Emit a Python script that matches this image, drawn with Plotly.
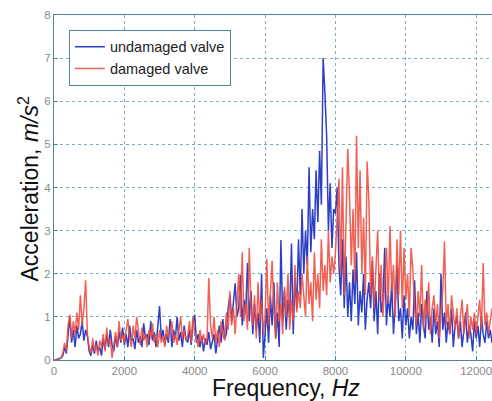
import plotly.graph_objects as go

FREQ_STEP = 50  # Hz between spectrum bins

undamaged = [
    0, 0, 0.02, 0.03, 0.05, 0.1, 0.3, 0.15, 0.6, 1.0, 0.4, 0.7, 0.3, 0.8, 0.5, 0.6, 0.9, 0.45, 0.7, 0.55,
    0.2, 0.1, 0.35, 0.15, 0.45, 0.2, 0.3, 0.1, 0.5, 0.25, 0.6, 0.3, 0.7, 0.35, 0.2, 0.55, 0.3, 0.65, 0.4, 0.75,
    0.35, 0.6, 0.3, 0.8, 0.45, 0.5, 0.25, 0.7, 0.4, 0.55, 0.3, 0.85, 0.5, 0.6, 0.35, 0.9, 0.45, 0.65, 0.3, 0.75,
    1.25, 0.5, 0.7, 0.35, 0.6, 0.4, 0.95, 0.3, 0.7, 0.5, 1.0, 0.45, 0.65, 0.3, 0.8, 0.5, 0.4, 0.7, 0.35, 0.85,
    1.05, 0.4, 0.6, 0.3, 0.55, 0.2, 0.5, 0.35, 0.65, 0.25, 0.45, 0.6, 0.15, 0.5, 0.8, 0.4, 0.95, 0.5, 0.6, 1.2,
    1.5, 0.9, 1.3, 1.78, 1.0, 1.2, 1.97, 0.8, 1.4, 1.1, 2.25, 0.9, 1.6, 0.6, 1.3, 0.7, 1.1, 0.4, 2.0, 0.05,
    0.6, 1.2, 0.4, 1.5, 0.8, 1.8, 0.5, 1.1, 0.3, 2.78, 0.9, 1.6, 0.7, 1.4, 1.0, 2.7, 0.6, 1.9, 1.2, 2.8,
    1.5, 3.5, 2.0, 3.0, 2.2, 4.47, 2.5, 3.5, 2.8, 4.4, 3.2, 4.85, 3.6, 7.0, 6.2, 5.2, 3.0, 4.1, 2.6, 3.5,
    3.4, 4.0, 2.2, 1.5, 2.8, 1.2, 2.4, 1.0, 1.8, 0.9, 2.1, 1.3, 2.5, 0.8, 1.6, 1.1, 2.0, 0.7, 1.4, 1.8,
    1.2, 2.3, 0.9, 1.6, 0.6, 2.0, 1.1, 1.4, 2.6, 0.8, 1.5, 1.0, 1.8, 0.6, 1.3, 2.2, 0.9, 1.2, 0.5, 1.5,
    0.8, 1.2, 0.5, 1.0, 0.7, 1.85, 0.6, 1.1, 0.4, 1.3, 0.8, 0.5, 1.6, 0.7, 1.0, 0.4, 1.2, 0.6, 0.9, 0.3,
    2.0, 0.7, 1.1, 0.4, 0.9, 0.6, 1.2, 0.3, 0.8, 1.0, 0.5, 0.9, 0.3, 0.7, 1.1, 0.4, 0.8, 0.6, 0.2, 0.9,
    0.5, 0.8, 0.3, 1.0, 0.6, 0.4, 0.9, 0.5, 0.7, 0.4, 0.6,
]

damaged = [
    0, 0, 0, 0.02, 0.05, 0.15, 0.4, 0.2, 0.8, 1.05, 0.5, 0.9, 0.6, 1.1, 0.7, 1.5, 0.8, 1.2, 1.85, 0.6,
    0.3, 0.15, 0.5, 0.2, 0.35, 0.1, 0.45, 0.3, 0.6, 0.2, 0.75, 0.35, 0.5, 0.05, 0.4, 0.65, 0.3, 0.9, 0.45, 0.6,
    0.4, 0.7, 0.95, 0.5, 0.3, 0.8, 0.5, 1.0, 0.6, 0.35, 0.75, 0.45, 0.6, 0.3, 0.7, 0.5, 0.85, 0.4, 0.6, 0.3,
    0.7, 0.4, 0.55, 0.3, 0.8, 0.5, 0.65, 0.9, 0.4, 0.6, 0.35, 0.75, 1.0, 0.5, 0.7, 0.45, 0.55, 0.9, 0.4, 1.0,
    0.6, 0.5, 0.3, 0.7, 0.4, 0.6, 0.35, 0.5, 1.9, 0.8, 0.5, 1.0, 0.4, 0.7, 0.3, 0.9, 0.6, 0.45, 1.1, 0.7,
    1.6, 0.8, 1.2, 0.6, 1.4, 2.0, 1.0, 2.5, 0.9, 1.3, 0.7, 2.6, 1.2, 0.8, 1.5, 0.5, 1.8, 0.9, 1.4, 0.6,
    1.0, 2.35, 0.8, 1.5, 2.3, 1.2, 0.5, 1.8, 0.9, 1.3, 0.6, 1.7, 1.0, 2.0, 0.7, 1.4, 0.9, 2.2, 1.1, 1.6,
    1.2, 2.0, 1.5, 1.0, 2.4, 1.3, 1.8, 0.9, 2.5, 1.4, 2.0, 1.2, 2.8, 1.6, 2.2, 1.5, 3.0, 1.8, 2.4, 2.0,
    2.5, 3.2, 4.2, 2.0, 4.47, 1.5, 3.0, 4.9, 3.8, 2.2, 3.5, 1.8, 5.2, 2.6, 4.4, 2.0, 3.3, 1.5, 4.6, 3.7,
    1.5, 2.4, 1.2, 2.0, 3.0, 1.4, 2.2, 1.0, 1.8, 2.6, 1.3, 3.1, 1.6, 2.2, 1.0, 2.8, 1.5, 3.0, 1.2, 2.6,
    1.4, 2.0, 1.0, 2.6, 2.1, 1.2, 0.8, 1.6, 1.0, 2.2, 0.7, 1.4, 1.0, 1.8, 0.6, 1.2, 1.5, 0.8, 1.3, 0.5,
    1.1, 1.6, 2.75, 0.8, 1.3, 0.6, 1.5, 1.0, 0.7, 1.2, 0.5, 1.0, 1.4, 0.6, 0.9, 1.3, 0.5, 1.0, 0.7, 1.1,
    0.6, 1.0, 1.4, 0.7, 2.25, 0.8, 1.1, 0.6, 0.9, 1.2, 0.7,
]

freq = [i * FREQ_STEP for i in range(len(undamaged))]

x_ticks = [0, 2000, 4000, 6000, 8000, 10000, 12000]
y_ticks = [0, 1, 2, 3, 4, 5, 6, 7, 8]

FONT = "Arial, Liberation Sans, sans-serif"
GRID = "#7aaec4"
FRAME = "#4f8596"

fig = go.Figure()
fig.add_trace(go.Scatter(x=freq, y=undamaged, mode="lines", name="undamaged valve",
                         line=dict(color="#2d3fc4", width=1.5)))
fig.add_trace(go.Scatter(x=freq, y=damaged, mode="lines", name="damaged valve",
                         line=dict(color="#f04c3e", width=1.5), opacity=0.88))

fig.update_layout(
    width=492, height=401,
    margin=dict(l=54, r=0, t=15, b=41),
    paper_bgcolor="white", plot_bgcolor="white",
    font=dict(family=FONT),
    showlegend=True,
    legend=dict(x=0.034, y=0.957, xanchor="left", yanchor="top",
                bgcolor="white", bordercolor=FRAME, borderwidth=1,
                font=dict(size=14.5, color="#222"), itemwidth=30,
                tracegroupgap=0),
    xaxis=dict(range=[0, 12450], tickvals=x_ticks, ticktext=[str(v) for v in x_ticks],
               showgrid=True, gridcolor=GRID, griddash="dot", gridwidth=1,
               showline=True, linecolor=FRAME, linewidth=1, mirror=True,
               ticks="inside", ticklen=4, tickcolor=FRAME, ticklabeloverflow="allow",
               tickfont=dict(size=11.5, color="#8a8a8a"), zeroline=False),
    yaxis=dict(range=[0, 8], tickvals=y_ticks,
               showgrid=True, gridcolor=GRID, griddash="dot", gridwidth=1,
               showline=True, linecolor=FRAME, linewidth=1, mirror=True,
               ticks="inside", ticklen=4, tickcolor=FRAME,
               tickfont=dict(size=11.5, color="#8a8a8a"), zeroline=False),
)

fig.add_annotation(text="Acceleration, <i>m/s</i><sup>2</sup>", xref="paper", yref="paper",
                   x=-0.058, y=0.496, textangle=-90, showarrow=False,
                   font=dict(size=23, color="#111", family=FONT),
                   xanchor="center", yanchor="middle")
fig.add_annotation(text="Frequency, <i>Hz</i>", xref="paper", yref="paper",
                   x=0.53, y=-0.039, showarrow=False,
                   font=dict(size=23, color="#111", family=FONT),
                   xanchor="center", yanchor="top")

fig.write_html("out.html")
